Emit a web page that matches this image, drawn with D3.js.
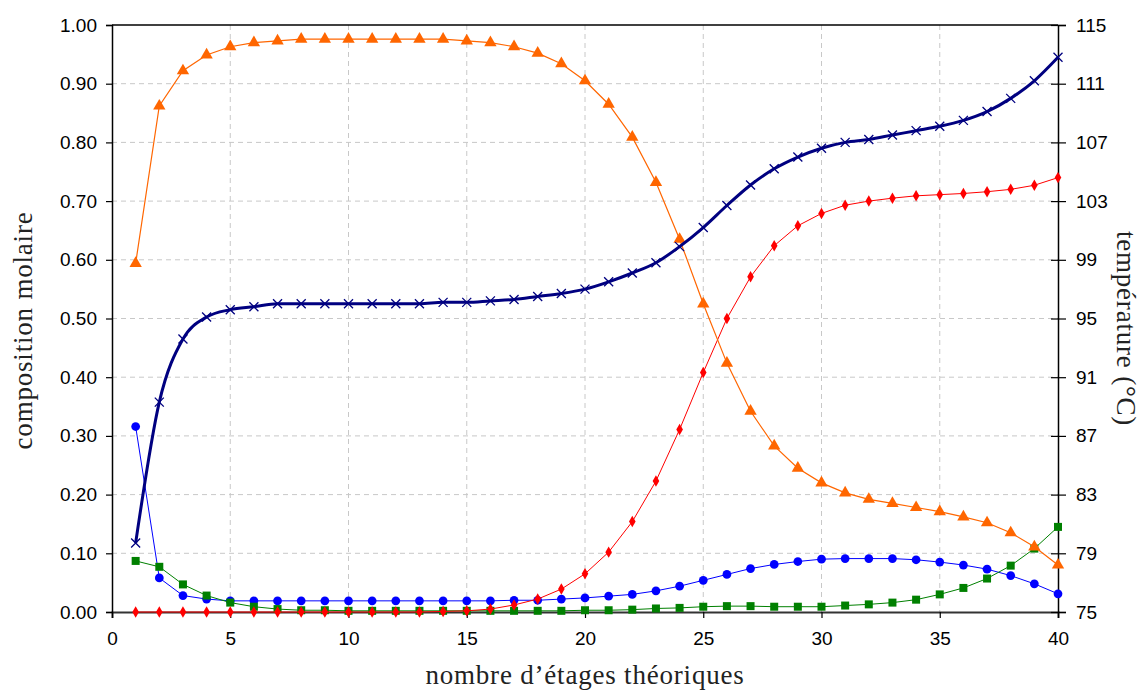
<!DOCTYPE html>
<html>
<head>
<meta charset="utf-8">
<script src="https://cdn.jsdelivr.net/npm/d3@7"></script>
<style>
  body { margin: 0; background: #fff; }
  .tick text { font-family: "Liberation Sans", Arial, sans-serif; font-size: 19px; fill: #000; }
  .title { font-family: "Liberation Serif", "DejaVu Serif", serif; font-size: 27px; letter-spacing: 0.8px; fill: #222; }
  .grid line { stroke: #c8c8c8; stroke-dasharray: 5,4; }
</style>
</head>
<body>
<div id="chart"></div>
<script>
const stages = d3.range(1, 41)

// orange triangles
const orange = [0.594, 0.862, 0.922, 0.949, 0.963, 0.970, 0.973, 0.976, 0.976, 0.976,
                0.976, 0.976, 0.976, 0.976, 0.973, 0.970, 0.963, 0.952, 0.934, 0.905,
                0.865, 0.809, 0.732, 0.635, 0.525, 0.424, 0.342, 0.283, 0.245, 0.220,
                0.203, 0.192, 0.185, 0.178, 0.171, 0.162, 0.152, 0.135, 0.111, 0.080]

// red diamonds
const red = [0, 0, 0, 0, 0, 0, 0, 0, 0, 0,
             0, 0, 0, 0.001, 0.002, 0.005, 0.012, 0.022, 0.039, 0.065,
             0.102, 0.154, 0.223, 0.311, 0.408, 0.500, 0.571, 0.624, 0.658, 0.679,
             0.693, 0.700, 0.705, 0.709, 0.711, 0.713, 0.716, 0.720, 0.727, 0.740]

// blue circles
const blue = [0.316, 0.058, 0.028, 0.022, 0.019, 0.019, 0.019, 0.019, 0.019, 0.019,
              0.019, 0.019, 0.019, 0.019, 0.019, 0.019, 0.020, 0.020, 0.022, 0.024,
              0.027, 0.030, 0.036, 0.044, 0.054, 0.064, 0.074, 0.081, 0.086, 0.090,
              0.091, 0.091, 0.091, 0.089, 0.085, 0.080, 0.073, 0.062, 0.048, 0.031]

// green squares
const green = [0.087, 0.077, 0.047, 0.028, 0.016, 0.009, 0.005, 0.003, 0.003, 0.002,
               0.002, 0.002, 0.002, 0.002, 0.002, 0.002, 0.002, 0.002, 0.002, 0.003,
               0.003, 0.004, 0.006, 0.007, 0.009, 0.010, 0.010, 0.009, 0.009, 0.009,
               0.011, 0.013, 0.016, 0.021, 0.030, 0.041, 0.057, 0.079, 0.108, 0.145]

// temperature (right axis), navy crosses
const temperature = [79.7, 89.3, 93.6, 95.1, 95.6, 95.8, 96.0, 96.0, 96.0, 96.0,
                     96.0, 96.0, 96.0, 96.1, 96.1, 96.2, 96.3, 96.5, 96.7, 97.0,
                     97.5, 98.1, 98.8, 99.9, 101.2, 102.7, 104.1, 105.2, 106.0, 106.6,
                     107.0, 107.2, 107.5, 107.8, 108.1, 108.5, 109.1, 110.0, 111.2, 112.8]

const xTicks = [0, 5, 10, 15, 20, 25, 30, 35, 40]
const yTicks = d3.range(0, 1.0001, 0.1)
const tTicks = [75, 79, 83, 87, 91, 95, 99, 103, 107, 111, 115]

const margin = { top: 25, right: 85, bottom: 79, left: 112 }
const W = 1143, H = 691
const width = W - margin.left - margin.right,
      height = H - margin.top - margin.bottom

const x = d3.scaleLinear().domain([0, 40]).range([0, width])
const y = d3.scaleLinear().domain([0, 1]).range([height, 0])
const yT = d3.scaleLinear().domain([75, 115]).range([height, 0])

const svg = d3.select('#chart').append('svg')
  .attr('width', W).attr('height', H)

const g = svg.append('g')
  .attr('transform', 'translate(' + margin.left + ',' + margin.top + ')')

// grid
const grid = g.append('g').classed('grid', true)
grid.selectAll('.h').data(yTicks.slice(1, -1)).enter().append('line')
  .attr('x1', 0).attr('x2', width)
  .attr('y1', d => y(d)).attr('y2', d => y(d))
grid.selectAll('.v').data(xTicks.slice(1, -1)).enter().append('line')
  .attr('y1', 0).attr('y2', height)
  .attr('x1', d => x(d)).attr('x2', d => x(d))

// frame top
g.append('line').attr('x1', 0).attr('x2', width).attr('y1', 0).attr('y2', 0)
  .attr('stroke', '#000').attr('stroke-width', 1.5)

// axes
const xAxis = g.append('g')
  .attr('transform', 'translate(0,' + height + ')')
  .call(d3.axisBottom(x).tickValues(xTicks).tickSize(6).tickPadding(14).tickFormat(d3.format('d')))
const yAxis = g.append('g')
  .call(d3.axisLeft(y).tickValues(yTicks).tickSize(6).tickPadding(9).tickFormat(d3.format('.2f')))
const tAxis = g.append('g')
  .attr('transform', 'translate(' + width + ',0)')
  .call(d3.axisRight(yT).tickValues(tTicks).tickSize(8).tickPadding(10))
tAxis.selectAll('.tick line').attr('x1', -7)

;[xAxis, yAxis, tAxis].forEach(a => {
  a.select('.domain').attr('stroke', '#000').attr('stroke-width', 1.5)
  a.selectAll('.tick line').attr('stroke', '#000').attr('stroke-width', 1.2)
})
xAxis.select('.domain').attr('stroke', '#333').attr('stroke-width', 2)

// series
const series = [
  { values: blue, color: '#0000ff', width: 1, marker: 'circle' },
  { values: green, color: '#008000', width: 1, marker: 'square' },
  { values: red, color: '#ff0000', width: 1, marker: 'diamond' },
  { values: orange, color: '#ff6600', width: 1.2, marker: 'triangle' }
]

const symbols = {
  circle: d3.symbol().type(d3.symbolCircle).size(60),
  square: d3.symbol().type(d3.symbolSquare).size(64),
  diamond: d3.symbol().type(d3.symbolDiamond).size(38),
  triangle: d3.symbol().type(d3.symbolTriangle).size(66)
}

const line = d3.line().x((d, i) => x(stages[i])).y(d => y(d))

series.forEach(s => {
  g.append('path').datum(s.values)
    .attr('fill', 'none')
    .attr('stroke', s.color)
    .attr('stroke-width', s.width)
    .attr('d', line)
  g.selectAll(null).data(s.values).enter().append('path')
    .attr('transform', (d, i) => 'translate(' + x(stages[i]) + ',' + y(d) + ')')
    .attr('d', symbols[s.marker])
    .attr('fill', s.color)
})

// temperature
const tLine = d3.line().x((d, i) => x(stages[i])).y(d => yT(d)).curve(d3.curveMonotoneX)
g.append('path').datum(temperature)
  .attr('fill', 'none')
  .attr('stroke', '#000080')
  .attr('stroke-width', 3)
  .attr('d', tLine)
g.selectAll(null).data(temperature).enter().append('path')
  .attr('transform', (d, i) => 'translate(' + x(stages[i]) + ',' + yT(d) + ')')
  .attr('d', 'M-4.5,-4.5L4.5,4.5M-4.5,4.5L4.5,-4.5')
  .attr('stroke', '#000080')
  .attr('stroke-width', 1.3)

// titles
svg.append('text').classed('title', true)
  .attr('x', margin.left + width / 2).attr('y', 684)
  .attr('text-anchor', 'middle')
  .text('nombre d\u2019\u00e9tages th\u00e9oriques')
svg.append('text').classed('title', true)
  .attr('transform', 'translate(32,' + (margin.top + height / 2 + 12) + ') rotate(-90)')
  .attr('text-anchor', 'middle')
  .text('composition molaire')
svg.append('text').classed('title', true)
  .attr('transform', 'translate(1117,' + (margin.top + height / 2 + 10) + ') rotate(90)')
  .attr('text-anchor', 'middle')
  .text('temp\u00e9rature (\u00b0C)')
</script>
</body>
</html>
